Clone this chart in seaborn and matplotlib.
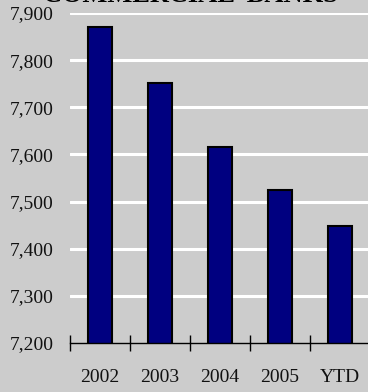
import matplotlib
matplotlib.use("Agg")
import matplotlib.pyplot as plt
import seaborn as sns
import pandas as pd

categories = ["2002", "2003", "2004", "2005", "YTD"]
values = [7870, 7751, 7616, 7525, 7448]
ytick_values = [7200, 7300, 7400, 7500, 7600, 7700, 7800, 7900]
ytick_labels = ["7,200", "7,300", "7,400", "7,500", "7,600", "7,700", "7,800", "7,900"]
title = "COMMERCIAL  BANKS"

sns.set_theme(style="white")
plt.rcParams["font.family"] = ["Liberation Serif", "DejaVu Serif"]

bg = "#CCCCCC"
fig = plt.figure(figsize=(3.68, 3.92), dpi=100, facecolor=bg)
ax = fig.add_axes([70/368, 49/392, 300/368, 330/392])
ax.set_facecolor(bg)

df = pd.DataFrame({"cat": categories, "val": values})
sns.barplot(data=df, x="cat", y="val", ax=ax, color="#000080", width=0.41,
            edgecolor="black", linewidth=1.5, saturation=1, zorder=3)

ax.set_ylim(7200, 7900)
ax.set_xlim(-0.5, 4.5)
ax.set_yticks(ytick_values)
ax.set_yticklabels(ytick_labels, fontsize=14)
for y in ytick_values[1:]:
    ax.axhline(y, color="white", lw=2.2, zorder=1)

ax.set_xticks([i - 0.5 for i in range(6)], minor=False)
ax.set_xticklabels([])
ax.set_xticks(range(5), minor=True)
ax.set_xticklabels(categories, minor=True, fontsize=14)
ax.tick_params(axis="x", which="major", direction="inout", length=12, width=1, color="black", bottom=True)
ax.tick_params(axis="x", which="minor", length=0, pad=19, colors="#111111")
ax.tick_params(axis="y", length=0, pad=12, colors="#111111")
ax.set_xlabel("")
ax.set_ylabel("")
for s in ["top", "right", "left"]:
    ax.spines[s].set_visible(False)
ax.spines["bottom"].set_color("black")
ax.spines["bottom"].set_linewidth(1)
ax.spines["bottom"].set_zorder(4)

fig.text(190/368, 1 - 2/392, title, ha="center", va="baseline",
         fontsize=19, fontweight="bold", color="black")

fig.savefig("out.png", dpi=100, facecolor=bg)
